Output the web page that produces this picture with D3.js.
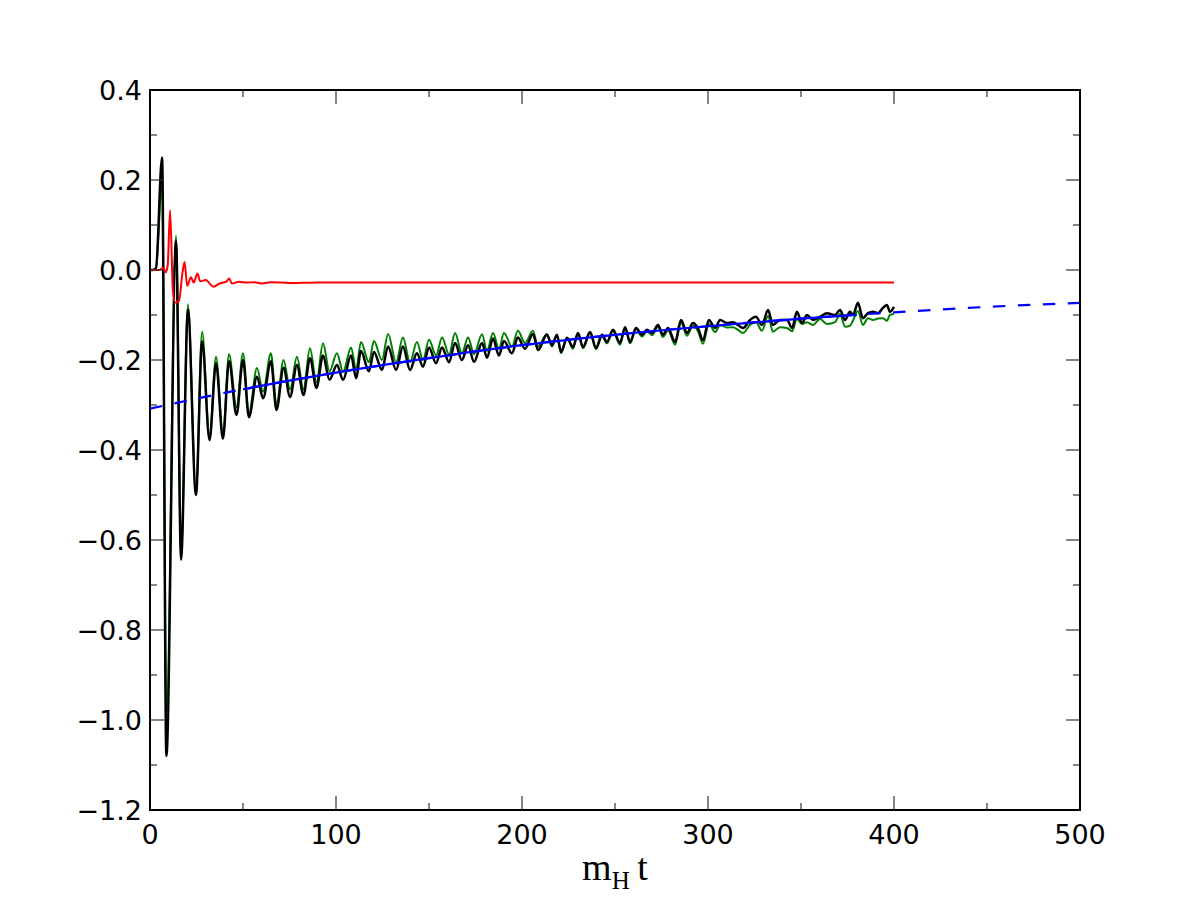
<!DOCTYPE html>
<html><head><meta charset="utf-8">
<script src="https://cdn.jsdelivr.net/npm/d3@7"></script>
<style>body{margin:0;background:#fff}svg{display:block}</style>
</head><body>
<script>
// ---- data ----
const xTicks = [0,100,200,300,400,500];
const xMinor = [50,150,250,350,450];
const yTicks = [0.4,0.2,0.0,-0.2,-0.4,-0.6,-0.8,-1.0,-1.2];
const yMinor = [0.3,0.1,-0.1,-0.3,-0.5,-0.7,-0.9,-1.1];
const yTickLabels = ["0.4","0.2","0.0","\u22120.2","\u22120.4","\u22120.6","\u22120.8","\u22121.0","\u22121.2"];

const blackT = [0,1.5,3.2,6.5,8.8,14,16.7,20.4,24.7,28,32,35.5,39.2,42.5,46.5,50,53.2,57.5,60.8,65,68,71.8,75.3,79,82.5,86,89.5,93,96.5,100.5,
 103.8,108.1,110.8,113.4,117.7,120.4,124.7,128.0,132.3,136.0,139.8,143.5,146.8,150.0,153.8,157.0,160.8,164.0,167.7,171.0,174.2,178.5,181.2,184.4,187.6,190.3,194.6,197.8,201.6,205.9,208.6,
 213.4,216.1,218.8,221.0,224.2,227.4,230.1,232.8,236.6,239.8,243.0,245.7,248.9,252.7,255.4,258.1,261.3,264.5,267.2,269.9,273.1,275.8,278.5,282.3,285.5,288.7,291.9,294.6,297.3,300.5,303.8,306.5,310.2,313.4,316.1,318.8,322.6,325.8,329.0,332.3,334.9,338.7,
 342.5,345.2,347.8,350.5,353.2,356.5,360.2,364.0,368.3,371.0,373.7,376.3,378.0,380.6,383.3,386.0,388.7,391.4,394.1,396.2,397.8,400.0];
const blackV = [0,0,0.004,0.25,-1.08,0.065,-0.644,-0.088,-0.50,-0.159,-0.378,-0.207,-0.375,-0.203,-0.322,-0.2,-0.327,-0.237,-0.285,-0.203,-0.311,-0.217,-0.282,-0.211,-0.278,-0.196,-0.262,-0.19,-0.244,-0.211,
 -0.244,-0.19,-0.24,-0.18,-0.225,-0.182,-0.222,-0.17,-0.222,-0.17,-0.222,-0.185,-0.215,-0.172,-0.207,-0.172,-0.205,-0.162,-0.2,-0.167,-0.204,-0.162,-0.195,-0.152,-0.19,-0.158,-0.185,-0.15,-0.175,-0.142,-0.178,
 -0.144,-0.167,-0.144,-0.182,-0.151,-0.171,-0.14,-0.171,-0.138,-0.173,-0.144,-0.16,-0.133,-0.162,-0.127,-0.16,-0.129,-0.144,-0.133,-0.14,-0.122,-0.144,-0.129,-0.16,-0.111,-0.14,-0.118,-0.129,-0.156,-0.111,-0.129,-0.111,-0.118,-0.116,-0.122,-0.129,-0.111,-0.104,-0.122,-0.089,-0.122,-0.111,
 -0.111,-0.129,-0.093,-0.118,-0.1,-0.111,-0.104,-0.096,-0.1,-0.089,-0.111,-0.093,-0.1,-0.073,-0.107,-0.096,-0.093,-0.096,-0.084,-0.078,-0.093,-0.082];
const greenV = [0,0,0.003,0.2,-1.0,0.076,-0.63,-0.076,-0.49,-0.137,-0.37,-0.193,-0.365,-0.187,-0.305,-0.185,-0.318,-0.218,-0.27,-0.185,-0.30,-0.2,-0.265,-0.193,-0.265,-0.174,-0.25,-0.163,-0.225,-0.185,
 -0.226,-0.172,-0.222,-0.16,-0.205,-0.158,-0.2,-0.142,-0.205,-0.15,-0.205,-0.16,-0.2,-0.155,-0.19,-0.15,-0.188,-0.14,-0.185,-0.15,-0.187,-0.143,-0.18,-0.14,-0.175,-0.14,-0.17,-0.135,-0.162,-0.135,-0.17,
 -0.142,-0.17,-0.146,-0.185,-0.15,-0.175,-0.142,-0.174,-0.14,-0.176,-0.147,-0.163,-0.136,-0.166,-0.13,-0.163,-0.131,-0.148,-0.136,-0.145,-0.126,-0.149,-0.134,-0.166,-0.117,-0.146,-0.124,-0.136,-0.164,-0.12,-0.138,-0.122,-0.128,-0.127,-0.133,-0.14,-0.122,-0.116,-0.135,-0.102,-0.137,-0.127,
 -0.129,-0.136,-0.109,-0.12,-0.116,-0.122,-0.109,-0.12,-0.116,-0.098,-0.126,-0.124,-0.112,-0.091,-0.122,-0.107,-0.111,-0.108,-0.107,-0.113,-0.1,-0.098];

const redT = [0,5,7,8.5,9.5,10.8,12.3,13.5,15.5,17.5,18.6,20,22,23.5,25.5,27,30,34,37.5,41,42.6,44,48,52,56,60,65,75,90,120,160,200,250,300,350,400];
const redV = [0,0,0.005,-0.005,0.01,0.133,-0.045,-0.072,-0.07,-0.005,0.018,-0.035,-0.016,-0.028,-0.008,-0.025,-0.022,-0.037,-0.03,-0.026,-0.019,-0.03,-0.026,-0.028,-0.027,-0.03,-0.027,-0.029,-0.028,-0.028,-0.028,-0.028,-0.028,-0.028,-0.028,-0.028];

const blueT = [0,50,100,150,200,250,300,350,400,450,500];
const blueV = [-0.308,-0.265,-0.228,-0.196,-0.167,-0.144,-0.125,-0.108,-0.094,-0.082,-0.073];
const fitRange = [50,380];

// ---- layout ----
const W=1200,H=900, L=150,R=1080,T=90,B=810;
const svg = d3.select("body").append("svg").attr("width",W).attr("height",H);
const x = d3.scaleLinear().domain([0,500]).range([L,R]);
const y = d3.scaleLinear().domain([-1.2,0.4]).range([B,T]);

const defs = svg.append("defs");
defs.append("clipPath").attr("id","plot").append("rect").attr("x",L).attr("y",T).attr("width",R-L).attr("height",B-T);
defs.append("clipPath").attr("id","fit").append("rect").attr("x",x(fitRange[0])).attr("y",T).attr("width",x(fitRange[1])-x(fitRange[0])).attr("height",B-T);

const line = d3.line().x(d=>x(d[0])).y(d=>y(d[1])).curve(d3.curveMonotoneX);
const g = svg.append("g").attr("clip-path","url(#plot)");

const greenData = blackT.map((t,i)=>[t,greenV[i]]);
const blackData = blackT.map((t,i)=>[t,blackV[i]]);
const redData = redT.map((t,i)=>[t,redV[i]]);
const blueData = blueT.map((t,i)=>[t,blueV[i]]);

g.append("path").datum(greenData).attr("d",line).attr("fill","none").attr("stroke","#008000").attr("stroke-width",2).attr("stroke-linejoin","round");
g.append("path").datum(blackData).attr("d",line).attr("fill","none").attr("stroke","#000").attr("stroke-width",2.5).attr("stroke-linejoin","round");
g.append("path").datum(redData).attr("d",line).attr("fill","none").attr("stroke","#ff0000").attr("stroke-width",2).attr("stroke-linejoin","round");
g.append("path").datum(blueData).attr("d",line).attr("fill","none").attr("stroke","#0000ff").attr("stroke-width",2.2).attr("stroke-dasharray","12.5,12.5");
g.append("g").attr("clip-path","url(#fit)").append("path").datum(blueData).attr("d",line).attr("fill","none").attr("stroke","#0000ff").attr("stroke-width",2.2);

// ---- axes ----
const tickColor="#333";
function ticksX(vals,len){
  vals.forEach(v=>{
    svg.append("line").attr("x1",x(v)).attr("x2",x(v)).attr("y1",B).attr("y2",B-len).attr("stroke",tickColor).attr("stroke-width",1.2);
    svg.append("line").attr("x1",x(v)).attr("x2",x(v)).attr("y1",T).attr("y2",T+len).attr("stroke",tickColor).attr("stroke-width",1.2);
  });
}
function ticksY(vals,len){
  vals.forEach(v=>{
    svg.append("line").attr("y1",y(v)).attr("y2",y(v)).attr("x1",L).attr("x2",L+len).attr("stroke",tickColor).attr("stroke-width",1.2);
    svg.append("line").attr("y1",y(v)).attr("y2",y(v)).attr("x1",R).attr("x2",R-len).attr("stroke",tickColor).attr("stroke-width",1.2);
  });
}
ticksX(xTicks,14); ticksX(xMinor,7); ticksY(yTicks,14); ticksY(yMinor,7);

svg.append("rect").attr("x",L).attr("y",T).attr("width",R-L).attr("height",B-T).attr("fill","none").attr("stroke","#000").attr("stroke-width",2);

const font = "'DejaVu Sans', sans-serif";
svg.selectAll(".xl").data(xTicks).enter().append("text")
  .attr("x",d=>x(d)).attr("y",B+34).attr("text-anchor","middle")
  .attr("font-family",font).attr("font-size",27).text(d=>String(d));
svg.selectAll(".yl").data(yTicks).enter().append("text")
  .attr("x",L-8).attr("y",d=>y(d)+10).attr("text-anchor","end")
  .attr("font-family",font).attr("font-size",27).text((d,i)=>yTickLabels[i]);

const xl = svg.append("text").attr("x",(L+R)/2).attr("y",880).attr("text-anchor","middle")
  .attr("font-family","'Liberation Serif', 'DejaVu Serif', serif").attr("font-size",38);
xl.append("tspan").text("m");
xl.append("tspan").attr("font-size",25).attr("dy",9).text("H");
xl.append("tspan").attr("dy",-9).text("\u2009t");
</script>
</body></html>
